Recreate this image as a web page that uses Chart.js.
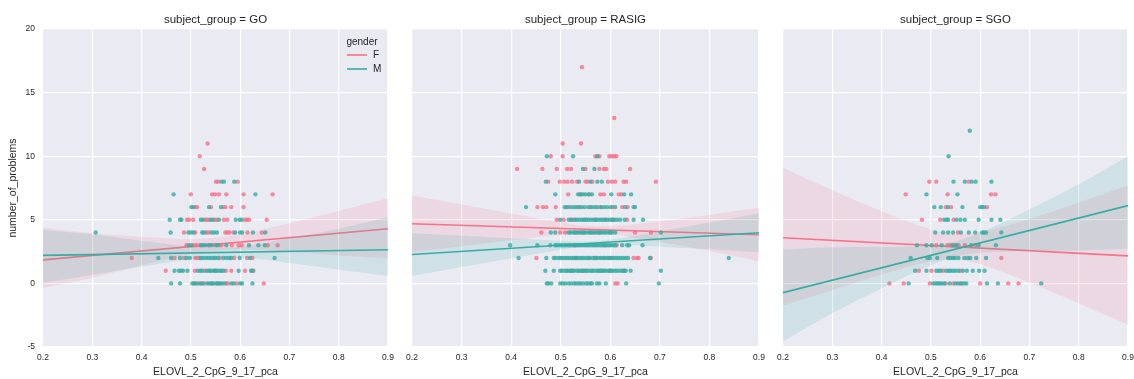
<!DOCTYPE html>
<html>
<head>
<meta charset="utf-8">
<script src="https://cdn.jsdelivr.net/npm/chart.js@4.4.1/dist/chart.umd.min.js"></script>
<style>
  html, body { margin: 0; padding: 0; background: #fff; }
  #wrap { position: relative; width: 1134px; height: 379px; }
  #wrap canvas { position: absolute; left: 0; top: 0; }
</style>
</head>
<body>
<div id="wrap">
  <canvas id="panelGO" width="1134" height="379"></canvas>
  <canvas id="panelRASIG" width="1134" height="379"></canvas>
  <canvas id="panelSGO" width="1134" height="379"></canvas>
</div>
<script>
// number_of_problems vs ELOVL_2_CpG_9_17_pca, one panel per subject_group, hue = gender
// each rows array: index = number_of_problems, values = x positions of the points in that row

const xTicks = [0.2, 0.3, 0.4, 0.5, 0.6, 0.7, 0.8, 0.9];
const yTicks = [-5, 0, 5, 10, 15, 20];
const genders = ['F', 'M'];

// --- GO ---
const goF = [
  [0.509, 0.518, 0.527, 0.543, 0.557, 0.572, 0.575, 0.593, 0.648],
  [0.449, 0.508, 0.528, 0.550, 0.571, 0.582, 0.610, 0.627],
  [0.380, 0.467, 0.486, 0.509, 0.513, 0.518, 0.559, 0.588, 0.614, 0.625],
  [0.491, 0.506, 0.511, 0.518, 0.535, 0.548, 0.562, 0.583, 0.597, 0.603, 0.656, 0.676],
  [0.486, 0.509, 0.532, 0.536, 0.570, 0.574, 0.578, 0.586, 0.615, 0.644],
  [0.492, 0.497, 0.505, 0.529, 0.532, 0.536, 0.548, 0.552, 0.567, 0.574, 0.610, 0.614, 0.618, 0.654],
  [0.509, 0.513, 0.541, 0.566, 0.570, 0.582, 0.607],
  [0.500, 0.543, 0.549, 0.557, 0.572, 0.607, 0.666],
  [0.551, 0.555, 0.595],
  [0.527],
  [0.518],
  [0.534]
];
const goM = [
  [0.460, 0.478, 0.503, 0.507, 0.513, 0.520, 0.524, 0.533, 0.537, 0.541, 0.546, 0.551, 0.554, 0.559, 0.563, 0.568, 0.582, 0.587, 0.600, 0.604, 0.625],
  [0.467, 0.476, 0.480, 0.484, 0.493, 0.514, 0.519, 0.523, 0.532, 0.537, 0.540, 0.545, 0.549, 0.553, 0.558, 0.562, 0.566, 0.597, 0.622, 0.625],
  [0.434, 0.460, 0.478, 0.491, 0.498, 0.520, 0.525, 0.531, 0.536, 0.541, 0.546, 0.550, 0.555, 0.566, 0.572, 0.578, 0.582, 0.599, 0.620, 0.670],
  [0.496, 0.501, 0.521, 0.525, 0.530, 0.538, 0.542, 0.552, 0.556, 0.572, 0.618, 0.637, 0.650],
  [0.307, 0.459, 0.495, 0.500, 0.505, 0.523, 0.527, 0.542, 0.547, 0.553, 0.590, 0.600, 0.604, 0.626, 0.651],
  [0.457, 0.478, 0.481, 0.520, 0.524, 0.540, 0.544, 0.557, 0.591, 0.599, 0.603],
  [0.501, 0.505, 0.537, 0.561],
  [0.465, 0.631],
  [0.562, 0.567, 0.588]
];

// --- RASIG ---
const rasigF = [
  [0.610, 0.615],
  [0.520, 0.545, 0.580, 0.600, 0.628],
  [0.451, 0.530, 0.570, 0.600, 0.647, 0.654, 0.657, 0.682],
  [0.530, 0.588, 0.613],
  [0.461, 0.499, 0.509, 0.530, 0.545, 0.562, 0.578, 0.600, 0.650, 0.682],
  [0.492, 0.506, 0.521, 0.526, 0.550, 0.570, 0.590, 0.605, 0.634],
  [0.453, 0.464, 0.471, 0.490, 0.515, 0.535, 0.560, 0.580, 0.605, 0.624, 0.635],
  [0.515, 0.540, 0.558, 0.580, 0.587, 0.617, 0.622],
  [0.475, 0.498, 0.507, 0.514, 0.523, 0.533, 0.550, 0.554, 0.564, 0.595, 0.603, 0.610, 0.627, 0.632, 0.692],
  [0.412, 0.463, 0.492, 0.513, 0.521, 0.550, 0.578, 0.587, 0.592, 0.640],
  [0.480, 0.504, 0.570, 0.578, 0.598, 0.603, 0.608, 0.612],
  [0.504, 0.541],
  [],
  [0.608],
  [],
  [],
  [],
  [0.543]
];
const rasigM = [
  [0.472, 0.475, 0.481, 0.499, 0.504, 0.509, 0.516, 0.521, 0.527, 0.531, 0.536, 0.540, 0.545, 0.551, 0.555, 0.560, 0.563, 0.573, 0.578, 0.591, 0.632, 0.698],
  [0.469, 0.486, 0.499, 0.502, 0.507, 0.512, 0.515, 0.520, 0.524, 0.527, 0.533, 0.536, 0.540, 0.544, 0.549, 0.552, 0.556, 0.561, 0.564, 0.568, 0.573, 0.576, 0.581, 0.585, 0.588, 0.592, 0.597, 0.600, 0.604, 0.609, 0.613, 0.618, 0.623, 0.627, 0.631, 0.641, 0.702],
  [0.415, 0.471, 0.486, 0.490, 0.496, 0.500, 0.504, 0.509, 0.513, 0.517, 0.522, 0.526, 0.531, 0.534, 0.539, 0.543, 0.547, 0.552, 0.556, 0.559, 0.565, 0.569, 0.572, 0.577, 0.581, 0.586, 0.589, 0.594, 0.598, 0.603, 0.607, 0.612, 0.616, 0.621, 0.626, 0.631, 0.636, 0.680, 0.839],
  [0.398, 0.453, 0.479, 0.489, 0.493, 0.498, 0.502, 0.507, 0.511, 0.516, 0.519, 0.524, 0.528, 0.533, 0.537, 0.541, 0.546, 0.550, 0.554, 0.558, 0.563, 0.567, 0.571, 0.575, 0.580, 0.584, 0.589, 0.593, 0.597, 0.601, 0.606, 0.610, 0.624, 0.634, 0.638, 0.665],
  [0.480, 0.489, 0.516, 0.520, 0.525, 0.529, 0.534, 0.538, 0.542, 0.547, 0.551, 0.556, 0.560, 0.565, 0.569, 0.573, 0.578, 0.582, 0.587, 0.591, 0.596, 0.600, 0.604, 0.610, 0.702],
  [0.499, 0.516, 0.521, 0.529, 0.533, 0.538, 0.543, 0.547, 0.552, 0.556, 0.561, 0.566, 0.571, 0.575, 0.580, 0.584, 0.589, 0.594, 0.599, 0.604, 0.609, 0.614, 0.620, 0.629, 0.647, 0.666],
  [0.430, 0.508, 0.512, 0.520, 0.526, 0.531, 0.538, 0.543, 0.549, 0.556, 0.563, 0.569, 0.574, 0.582, 0.588, 0.594, 0.601, 0.610, 0.630, 0.647, 0.650],
  [0.489, 0.535, 0.540, 0.545, 0.550, 0.556, 0.563, 0.602, 0.628, 0.642],
  [0.470, 0.537, 0.560, 0.574, 0.583],
  [0.545, 0.568],
  [0.472, 0.525, 0.574]
];

// --- SGO ---
const sgoF = [
  [0.416, 0.445, 0.498, 0.530, 0.545, 0.560, 0.600, 0.657, 0.678],
  [0.476, 0.501, 0.525, 0.560],
  [0.643],
  [0.511, 0.534, 0.540, 0.548, 0.556, 0.569, 0.590],
  [0.555],
  [0.482, 0.519, 0.546],
  [0.530, 0.541, 0.614],
  [0.449, 0.534, 0.622, 0.631],
  [0.497, 0.511, 0.577]
];
const sgoM = [
  [0.455, 0.505, 0.510, 0.514, 0.518, 0.522, 0.527, 0.538, 0.550, 0.555, 0.562, 0.567, 0.572, 0.614, 0.636, 0.724],
  [0.468, 0.491, 0.511, 0.516, 0.520, 0.531, 0.536, 0.540, 0.545, 0.550, 0.556, 0.565, 0.573, 0.585, 0.598, 0.609],
  [0.459, 0.493, 0.498, 0.513, 0.535, 0.540, 0.545, 0.549, 0.556, 0.568, 0.575, 0.580, 0.592, 0.612],
  [0.472, 0.491, 0.502, 0.522, 0.544, 0.552, 0.582, 0.597, 0.632],
  [0.509, 0.525, 0.535, 0.545, 0.561, 0.577, 0.590, 0.604, 0.608, 0.612, 0.643],
  [0.527, 0.532, 0.535, 0.552, 0.560, 0.569, 0.597, 0.623, 0.641],
  [0.507, 0.520, 0.535, 0.564, 0.600, 0.604, 0.608],
  [0.491, 0.554],
  [0.546, 0.569, 0.583, 0.591, 0.623],
  [],
  [0.536],
  [],
  [0.579]
];

// regression fits: value at x = 0.2 and x = 0.9
const fitX = [0.2, 0.9];
const goFLine = [1.85, 4.30];
const goMLine = [2.20, 2.65];
const rasigFLine = [4.69, 3.83];
const rasigMLine = [2.27, 3.98];
const sgoFLine = [3.59, 2.16];
const sgoMLine = [-0.73, 6.12];

// 95% confidence bands, sampled along x
const bandX = [0.2, 0.3, 0.4, 0.5, 0.55, 0.6, 0.7, 0.8, 0.9];
const goFHigh = [4.38, 3.95, 3.67, 3.48, 3.58, 3.83, 4.72, 5.70, 6.69];
const goFLow = [-0.37, 0.45, 1.43, 2.32, 2.58, 2.67, 2.48, 2.20, 1.97];
const goMHigh = [4.20, 3.86, 3.35, 2.89, 2.78, 2.88, 3.55, 4.30, 5.20];
const goMLow = [0.05, 0.66, 1.31, 1.89, 2.06, 2.04, 1.61, 1.10, 0.58];
const rasigFHigh = [6.92, 6.21, 5.49, 4.81, 4.54, 4.51, 4.89, 5.38, 5.94];
const rasigFLow = [2.46, 2.93, 3.39, 3.83, 3.98, 3.89, 3.25, 2.55, 1.75];
const rasigMHigh = [3.95, 3.74, 3.54, 3.35, 3.29, 3.45, 4.10, 4.78, 5.52];
const rasigMLow = [0.59, 1.28, 1.98, 2.65, 2.95, 3.05, 2.88, 2.68, 2.45];
const sgoFHigh = [9.10, 7.32, 5.67, 4.24, 3.88, 4.03, 5.06, 6.36, 7.70];
const sgoFLow = [-1.75, -0.54, 0.69, 1.72, 1.88, 1.51, 0.08, -1.56, -3.26];
const sgoMHigh = [2.66, 2.85, 2.86, 3.00, 3.30, 3.98, 5.80, 7.80, 10.0];
const sgoMLow = [-4.56, -2.35, -0.40, 1.42, 2.10, 2.40, 2.54, 2.58, 2.73];

const COLORS = { F: [247, 113, 137], M: [54, 173, 164] };
const rgba = (c, a) => `rgba(${c[0]},${c[1]},${c[2]},${a})`;
const FONT = '"Liberation Sans", Arial, sans-serif';
const TEXT = '#262626';

Chart.defaults.animation = false;
Chart.defaults.font.family = FONT;
Chart.defaults.color = TEXT;

function rowsToPoints(rows) {
  const pts = [];
  rows.forEach((xs, y) => xs.forEach(x => pts.push({ x: x, y: y })));
  return pts;
}

function zipXY(xs, ys) {
  return xs.map((x, i) => ({ x: x, y: ys[i] }));
}

// seaborn-ish grey plot background
const panelBackground = {
  id: 'panelBackground',
  beforeDraw(chart) {
    const a = chart.chartArea;
    const ctx = chart.ctx;
    ctx.save();
    ctx.fillStyle = '#eaeaf2';
    ctx.fillRect(a.left, a.top, a.right - a.left, a.bottom - a.top);
    ctx.restore();
  }
};

// facet title and (first panel only) the gender legend
const panelDecor = {
  id: 'panelDecor',
  afterDraw(chart, args, opts) {
    const a = chart.chartArea;
    const ctx = chart.ctx;
    ctx.save();
    ctx.fillStyle = TEXT;
    ctx.font = `11.5px ${FONT}`;
    ctx.textAlign = 'center';
    ctx.textBaseline = 'middle';
    ctx.fillText(opts.title, (a.left + a.right) / 2, 20);

    if (opts.legend) {
      ctx.font = `10px ${FONT}`;
      ctx.fillText('gender', 362, 42);
      genders.forEach((g, i) => {
        const y = 55 + i * 14;
        ctx.strokeStyle = rgba(COLORS[g], 1);
        ctx.lineWidth = 1.6;
        ctx.beginPath();
        ctx.moveTo(347, y);
        ctx.lineTo(367, y);
        ctx.stroke();
        ctx.textAlign = 'left';
        ctx.fillText(g, 373, y);
      });
    }
    ctx.restore();
  }
};

function makePanel(id, cfg) {
  const yw = cfg.yAxis ? 43 : 0;
  const datasets = [];
  const order = { F: 6, M: 3 };
  genders.forEach(g => {
    const o = order[g];
    const col = COLORS[g];
    datasets.push({
      label: g,
      data: rowsToPoints(cfg.rows[g]),
      backgroundColor: rgba(col, 0.8),
      borderWidth: 0,
      pointRadius: 2.2,
      pointHoverRadius: 2.2,
      order: o
    });
    datasets.push({
      type: 'line',
      data: zipXY(bandX, cfg.high[g]),
      borderWidth: 0,
      pointRadius: 0,
      fill: false,
      cubicInterpolationMode: 'monotone',
      order: o - 1
    });
    datasets.push({
      type: 'line',
      data: zipXY(bandX, cfg.low[g]),
      borderWidth: 0,
      pointRadius: 0,
      fill: '-1',
      backgroundColor: rgba(col, 0.15),
      cubicInterpolationMode: 'monotone',
      order: o - 1
    });
    datasets.push({
      type: 'line',
      data: zipXY(fitX, cfg.line[g]),
      borderColor: rgba(col, 1),
      borderWidth: 1.6,
      pointRadius: 0,
      fill: false,
      order: o - 2
    });
  });

  return new Chart(document.getElementById(id), {
    type: 'scatter',
    data: { datasets: datasets },
    plugins: [panelBackground, panelDecor],
    options: {
      responsive: false,
      devicePixelRatio: 1,
      events: [],
      layout: {
        autoPadding: false,
        padding: { left: cfg.left - yw, right: 1134 - cfg.right, top: 29, bottom: 0 }
      },
      plugins: {
        legend: { display: false },
        tooltip: { enabled: false },
        panelDecor: { title: cfg.title, legend: cfg.legend }
      },
      scales: {
        x: {
          type: 'linear',
          min: 0.2,
          max: 0.9,
          afterBuildTicks: s => { s.ticks = xTicks.map(v => ({ value: v })); },
          afterFit: s => { s.height = 32; s.paddingLeft = 0; s.paddingRight = 0; },
          border: { display: false },
          grid: { color: '#ffffff', lineWidth: 1.2, drawTicks: false },
          ticks: {
            padding: 6,
            font: { size: 8.5 },
            color: TEXT,
            maxRotation: 0,
            callback: v => v.toFixed(1)
          },
          title: {
            display: true,
            text: 'ELOVL_2_CpG_9_17_pca',
            font: { size: 10.5 },
            color: TEXT,
            padding: { top: 0, bottom: 1 }
          }
        },
        y: {
          type: 'linear',
          min: -5,
          max: 20,
          afterBuildTicks: s => { s.ticks = yTicks.map(v => ({ value: v })); },
          afterFit: s => { s.width = yw; s.paddingTop = 0; s.paddingBottom = 0; },
          border: { display: false },
          grid: { color: '#ffffff', lineWidth: 1.2, drawTicks: false },
          ticks: {
            display: cfg.yAxis,
            padding: 8,
            font: { size: 8.5 },
            color: TEXT
          },
          title: {
            display: cfg.yAxis,
            text: 'number_of_problems',
            font: { size: 10.5 },
            color: TEXT,
            padding: { top: 7, bottom: 0 }
          }
        }
      }
    }
  });
}

makePanel('panelGO', {
  title: 'subject_group = GO', left: 43, right: 388, yAxis: true, legend: true,
  rows: { F: goF, M: goM },
  line: { F: goFLine, M: goMLine },
  high: { F: goFHigh, M: goMHigh },
  low: { F: goFLow, M: goMLow }
});
makePanel('panelRASIG', {
  title: 'subject_group = RASIG', left: 412, right: 759, yAxis: false, legend: false,
  rows: { F: rasigF, M: rasigM },
  line: { F: rasigFLine, M: rasigMLine },
  high: { F: rasigFHigh, M: rasigMHigh },
  low: { F: rasigFLow, M: rasigMLow }
});
makePanel('panelSGO', {
  title: 'subject_group = SGO', left: 783, right: 1128, yAxis: false, legend: false,
  rows: { F: sgoF, M: sgoM },
  line: { F: sgoFLine, M: sgoMLine },
  high: { F: sgoFHigh, M: sgoMHigh },
  low: { F: sgoFLow, M: sgoMLow }
});
</script>
</body>
</html>
